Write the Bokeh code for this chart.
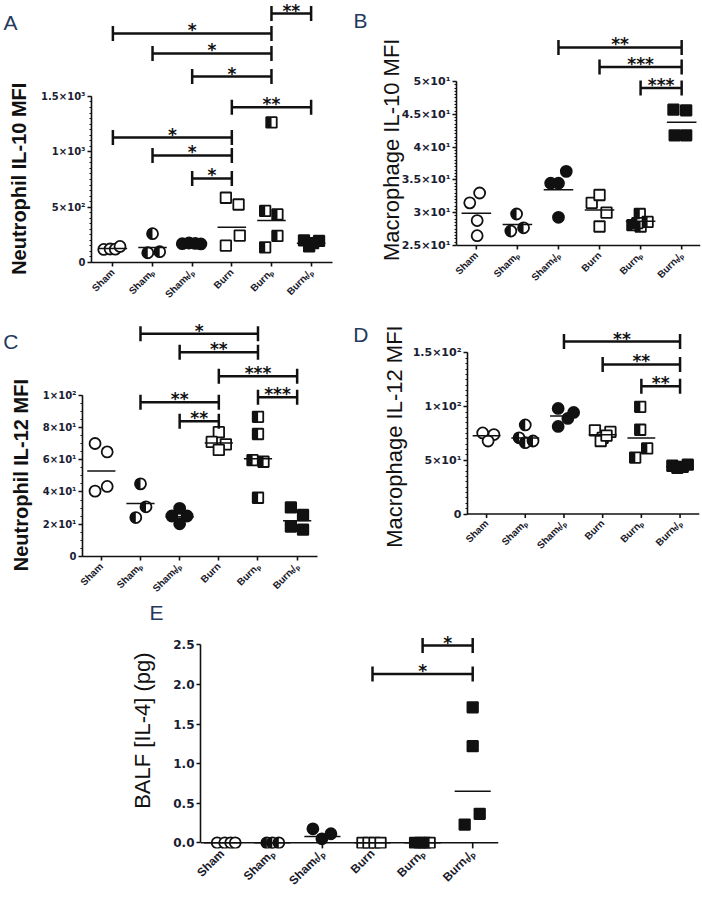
import math
from bokeh.plotting import figure
from bokeh.layouts import column, row
from bokeh.models import (Range1d, FixedTicker, ColumnDataSource, LabelSet, Span, LinearAxis)
from bokeh.core.properties import value
from bokeh.embed import file_html
from bokeh.resources import INLINE

# ---------------- data ----------------
GROUPS = ["Sham", "Shamₚ", "Shamₜ/ₚ", "Burn", "Burnₚ", "Burnₜ/ₚ"]
MARKERS = ["circle_open", "circle_half", "circle_filled", "square_open", "square_half", "square_filled"]

# Panel A: Neutrophil IL-10 MFI
A_VALUES = [[118, 122, 120, 145], [260, 88, 98], [170, 176, 172, 168],
            [585, 524, 243, 152], [1265, 466, 434, 240, 137], [200, 195, 145, 175]]
A_JITTER = [[-0.23, -0.07, 0.06, 0.18], [0.0, -0.12, 0.18], [-0.25, -0.08, 0.08, 0.22],
            [-0.15, 0.17, 0.2, -0.15], [0.0, -0.16, 0.15, 0.15, -0.16], [-0.18, 0.2, -0.05, 0.05]]
A_MEANS = [126, 136, 173, 318, 380, 175]
A_BR_FROM = [4, 0, 1, 2, 3, 0, 1, 2]
A_BR_TO = [5, 4, 4, 4, 5, 3, 3, 3]
A_BR_Y = [2249, 2069, 1888, 1680, 1403, 1129, 967, 759]
A_BR_STARS = ["**", "*", "*", "*", "**", "*", "*", "*"]
A_TICKS = [0, 500, 1000, 1500]
A_TICK_LABELS = ["0", "5×10²", "1×10³", "1.5×10³"]

# Panel B: Macrophage IL-10 MFI
B_VALUES = [[33.0, 31.5, 28.8, 26.5], [29.8, 27.2, 27.7], [34.5, 34.5, 36.3, 29.3],
            [31.5, 32.7, 30.0, 27.9], [28.1, 29.8, 27.9, 28.6, 28.4], [45.7, 45.6, 41.8, 41.8]]
B_JITTER = [[0.08, -0.16, 0.02, 0.02], [-0.02, -0.16, 0.15], [-0.19, 0.0, 0.19, 0.0],
            [-0.19, 0.0, 0.17, 0.0], [-0.2, -0.02, 0.0, 0.17, -0.08], [-0.2, 0.11, -0.17, 0.11]]
B_MEANS = [29.9, 28.2, 33.5, 30.4, 28.7, 43.8]
B_BR_FROM = [2, 3, 4]
B_BR_TO = [5, 5, 5]
B_BR_Y = [55.2, 52.2, 49.0]
B_BR_STARS = ["**", "***", "***"]
B_TICKS = [25, 30, 35, 40, 45, 50]
B_TICK_LABELS = ["2.5×10¹", "3×10¹", "3.5×10¹", "4×10¹", "4.5×10¹", "5×10¹"]

# Panel C: Neutrophil IL-12 MFI
C_VALUES = [[70.0, 64.8, 43.4, 40.5], [45.0, 30.8, 24.1], [29.8, 25.1, 25.1, 20.3],
            [77.0, 71.0, 69.5, 66.0], [86.5, 75.9, 59.7, 58.7, 36.4], [30.4, 25.7, 18.6, 16.6]]
C_JITTER = [[-0.16, 0.15, 0.15, -0.16], [0.0, 0.14, -0.12], [0.0, -0.2, 0.19, 0.0],
            [0.0, -0.18, 0.18, 0.0], [0.0, 0.0, -0.14, 0.14, 0.0], [-0.16, 0.15, -0.16, 0.15]]
C_MEANS = [53.0, 32.8, 24.7, 70.3, 60.5, 22.1]
C_BR_FROM = [1, 2, 3, 4, 1, 2]
C_BR_TO = [4, 4, 5, 5, 3, 3]
C_BR_Y = [138, 126.5, 111.7, 98.6, 95.5, 83.8]
C_BR_STARS = ["*", "**", "***", "***", "**", "**"]
C_TICKS = [0, 20, 40, 60, 80, 100]
C_TICK_LABELS = ["0", "2×10¹", "4×10¹", "6×10¹", "8×10¹", "1×10²"]

# Panel D: Macrophage IL-12 MFI
D_VALUES = [[75.5, 74.0, 68.0], [83.0, 71.0, 66.5, 68.0], [98.3, 94.6, 89.0, 81.6],
            [78.0, 76.5, 71.0, 68.0, 73.0], [99.8, 78.5, 61.1, 52.6], [45.0, 43.0, 44.0, 46.0]]
D_JITTER = [[-0.1, 0.19, 0.04], [0.0, -0.16, 0.0, 0.2], [-0.15, 0.25, 0.1, -0.15],
            [-0.2, 0.2, 0.0, -0.05, 0.1], [-0.03, -0.03, 0.15, -0.16], [-0.2, -0.07, 0.07, 0.2]]
D_MEANS = [73.0, 70.9, 91.2, 73.9, 70.9, 44.0]
D_BR_FROM = [2, 3, 4]
D_BR_TO = [5, 5, 5]
D_BR_Y = [160.6, 139.3, 119.0]
D_BR_STARS = ["**", "**", "**"]
D_TICKS = [0, 50, 100, 150]
D_TICK_LABELS = ["0", "5×10¹", "1×10²", "1.5×10²"]

# Panel E: BALF [IL-4] (pg)
E_VALUES = [[0, 0, 0, 0], [0, 0, 0], [0.177, 0.114, 0.05],
            [0, 0, 0, 0], [0, 0, 0, 0], [1.71, 1.22, 0.23, 0.366]]
E_JITTER = [[-0.1, 0.05, 0.17, 0.26], [-0.11, 0.0, 0.13], [-0.19, 0.17, -0.01],
            [-0.2, -0.08, 0.04, 0.16], [-0.15, -0.05, 0.05, 0.14], [0.0, 0.0, -0.16, 0.14]]
E_MEANS = [0, 0, 0.08, 0, 0, 0.65]
E_BR_FROM = [4, 3]
E_BR_TO = [5, 5]
E_BR_Y = [2.49, 2.13]
E_BR_STARS = ["*", "*"]
E_TICKS = [0, 0.5, 1.0, 1.5, 2.0, 2.5]
E_TICK_LABELS = ["0.0", "0.5", "1.0", "1.5", "2.0", "2.5"]

# ---------------- style ----------------
INK = "#111111"
TICK_COLOR = "#1b1d33"
LABEL_COLOR = "#1a1a2a"
LETTER_COLOR = "#23395d"
MS_CIRCLE = 11
MS_SQUARE = 10.5
NBSP = "\u00a0"


def panel(geo, values, jitter, means, br_from, br_to, br_y, br_stars,
          yticks, ylabels, yminor, title, title_bold, title_size, title_standoff, title_pad,
          tick_size, xl_size, letter, letter_y, letter_standoff, tick_len=4, lab_gap=8):
    n = len(GROUPS)
    fl = geo["x"] + geo["bl"]
    fr = geo["x"] + geo["w"] - geo["br"]
    ft = geo["y"]
    fb = geo["y"] + geo["h"] - geo["bb"]
    step = geo["step"]
    ky = geo["ky"]
    x0 = -(geo["cat0"] - fl) / step
    x1 = x0 + (fr - fl) / step
    av = geo["axis_val"]
    y0 = av - (fb - geo["axis_y"]) / ky
    y1 = av + (geo["axis_y"] - ft) / ky
    own_axis = abs(fb - geo["axis_y"]) < 0.5

    p = figure(width=geo["w"], height=geo["h"], output_backend="svg", toolbar_location=None,
               x_range=Range1d(x0, x1), y_range=Range1d(y0, y1),
               min_border_left=geo["bl"], min_border_right=geo["br"],
               min_border_top=0, min_border_bottom=geo["bb"])
    p.outline_line_color = None
    p.xgrid.visible = False
    p.ygrid.visible = False

    # x axis: category labels
    xa = p.xaxis[0]
    xa.ticker = FixedTicker(ticks=list(range(n)), minor_ticks=[])
    xa.major_label_overrides = {i: g for i, g in enumerate(GROUPS)}
    xa.major_label_orientation = math.pi / 4
    xa.major_label_text_font = "Liberation Sans"
    xa.major_label_text_font_style = "bold"
    xa.major_label_text_font_size = xl_size
    xa.major_label_text_color = LABEL_COLOR
    if own_axis:
        xa.axis_line_color = INK
        xa.axis_line_width = 1.6
        xa.major_tick_line_color = INK
        xa.major_tick_line_width = 1.6
        xa.major_tick_out = tick_len
        xa.major_tick_in = 0
        xa.major_label_standoff = lab_gap - tick_len
    else:
        # axis baseline sits above the frame bottom: drawn as a span with tick segments
        xa.axis_line_color = None
        xa.major_tick_line_color = None
        xa.major_tick_out = 0
        xa.major_tick_in = 0
        xa.major_label_standoff = int(round(lab_gap - (fb - geo["axis_y"])))
        p.add_layout(Span(location=av, dimension="width", line_color=INK, line_width=1.6))
        p.segment(list(range(n)), [av] * n, list(range(n)), [av - tick_len / ky] * n,
                  line_color=INK, line_width=1.6)

    # y axis
    ya = p.yaxis[0]
    ya.ticker = FixedTicker(ticks=yticks, minor_ticks=yminor)
    ya.bounds = (yticks[0], yticks[-1])
    ya.major_label_overrides = {t: l for t, l in zip(yticks, ylabels)}
    ya.major_label_text_font = "DejaVu Sans"
    ya.major_label_text_font_style = "bold"
    ya.major_label_text_font_size = tick_size
    ya.major_label_text_color = TICK_COLOR
    ya.major_label_standoff = 2
    ya.axis_line_color = INK
    ya.axis_line_width = 1.6
    ya.major_tick_line_color = INK
    ya.major_tick_line_width = 1.6
    ya.major_tick_out = 4
    ya.major_tick_in = 0
    ya.minor_tick_line_color = INK
    ya.minor_tick_line_width = 1.2
    ya.minor_tick_out = 2
    ya.minor_tick_in = 0
    # trailing no-break spaces shift the visible title down along the axis
    ya.axis_label = title + NBSP * title_pad
    ya.axis_label_text_font = "Liberation Sans"
    ya.axis_label_text_font_style = "bold" if title_bold else "normal"
    ya.axis_label_text_font_size = title_size
    ya.axis_label_text_color = INK
    ya.axis_label_standoff = title_standoff

    # panel letter, as the single label of an outer left axis
    lyv = round(av + (geo["axis_y"] - letter_y) / ky, 4)
    lax = LinearAxis(ticker=FixedTicker(ticks=[lyv], minor_ticks=[]))
    lax.major_label_overrides = {lyv: letter}
    lax.axis_line_color = None
    lax.major_tick_line_color = None
    lax.minor_tick_line_color = None
    lax.major_tick_out = 0
    lax.major_tick_in = 0
    lax.major_label_standoff = letter_standoff
    lax.major_label_text_font = "Liberation Sans"
    lax.major_label_text_font_size = "21px"
    lax.major_label_text_color = LETTER_COLOR
    p.add_layout(lax, "left")

    # points
    for i, (vals, jit, style) in enumerate(zip(values, jitter, MARKERS)):
        xs = [i + j for j in jit]
        is_circle = style.startswith("circle")
        ms = MS_CIRCLE if is_circle else MS_SQUARE
        fill = INK if style.endswith("filled") else "white"
        p.scatter(xs, vals, marker="circle" if is_circle else "square", size=ms,
                  fill_color=fill, line_color=INK, line_width=1.8)
        if style == "circle_half":
            p.wedge(xs, vals, radius=ms / 2, radius_units="screen",
                    start_angle=math.pi / 2, end_angle=3 * math.pi / 2,
                    fill_color=INK, line_color=None)
        if style == "square_half":
            p.rect([x - (ms / 4) / step for x in xs], vals, width=ms / 2, height=ms,
                   width_units="screen", height_units="screen",
                   fill_color=INK, line_color=None)

    # mean lines
    p.segment([i - 0.36 for i in range(n)], means, [i + 0.36 for i in range(n)], means,
              line_color=INK, line_width=1.5)

    # significance brackets
    p.segment(br_from, br_y, br_to, br_y, line_color=INK, line_width=2.5)
    p.scatter(br_from + br_to, br_y + br_y, marker="dash", angle=math.pi / 2, size=15,
              line_color=INK, line_width=2.5)
    star_src = ColumnDataSource(dict(x=[(a + b) / 2 for a, b in zip(br_from, br_to)], y=br_y, t=br_stars))
    p.add_layout(LabelSet(x="x", y="y", text="t", source=star_src, text_align="center",
                          text_baseline="alphabetic", y_offset=-3,
                          text_font=value("DejaVu Sans"), text_font_style="bold",
                          text_font_size="17px", text_color=INK))
    return p


GEO_A = dict(x=0, y=0, w=350, h=310, bl=84, br=18, bb=48, cat0=106, step=40.8, axis_y=262, ky=0.1107, axis_val=0)
GEO_B = dict(x=350, y=0, w=352, h=310, bl=104, br=2, bb=48, cat0=474, step=41.4, axis_y=245, ky=6.56, axis_val=25)
GEO_C = dict(x=0, y=310, w=350, h=290, bl=71, br=33, bb=39, cat0=90.7, step=41.0, axis_y=561, ky=1.647, axis_val=0)
GEO_D = dict(x=350, y=310, w=352, h=290, bl=102, br=3, bb=39, cat0=472.3, step=41.2, axis_y=517.7, ky=1.096, axis_val=0)
GEO_E = dict(x=0, y=600, w=702, h=300, bl=200, br=204, bb=52, cat0=221.7, step=50.1, axis_y=842.3, ky=79.2, axis_val=0)

pA = panel(GEO_A, A_VALUES, A_JITTER, A_MEANS, A_BR_FROM, A_BR_TO, A_BR_Y, A_BR_STARS,
           A_TICKS, A_TICK_LABELS, list(range(0, 1501, 50)),
           "Neutrophil IL-10 MFI", True, "20px", 8, 17, "10px", "10px", "A", 22.5, -12)
pB = panel(GEO_B, B_VALUES, B_JITTER, B_MEANS, B_BR_FROM, B_BR_TO, B_BR_Y, B_BR_STARS,
           B_TICKS, B_TICK_LABELS, [25 + 0.5 * k for k in range(51)],
           "Macrophage IL-10 MFI", False, "22px", -5, 6, "11px", "10px", "B", 20, 8)
pC = panel(GEO_C, C_VALUES, C_JITTER, C_MEANS, C_BR_FROM, C_BR_TO, C_BR_Y, C_BR_STARS,
           C_TICKS, C_TICK_LABELS, list(range(0, 101, 5)),
           "Neutrophil IL-12 MFI", True, "20px", 8, 15, "10px", "10px", "C", 341.5, -12)
pD = panel(GEO_D, D_VALUES, D_JITTER, D_MEANS, D_BR_FROM, D_BR_TO, D_BR_Y, D_BR_STARS,
           D_TICKS, D_TICK_LABELS, list(range(0, 151, 5)),
           "Macrophage IL-12 MFI", False, "22px", 3, 1, "11px", "10px", "D", 334, 10)
pE = panel(GEO_E, E_VALUES, E_JITTER, E_MEANS, E_BR_FROM, E_BR_TO, E_BR_Y, E_BR_STARS,
           E_TICKS, E_TICK_LABELS, [],
           "BALF [IL-4] (pg)", False, "22px", 15, 2, "12px", "12px", "E", 611, -36,
           tick_len=6, lab_gap=9)

layout = column(row(pA, pB), row(pC, pD), pE)
open("out.html", "w").write(file_html(layout, INLINE))
